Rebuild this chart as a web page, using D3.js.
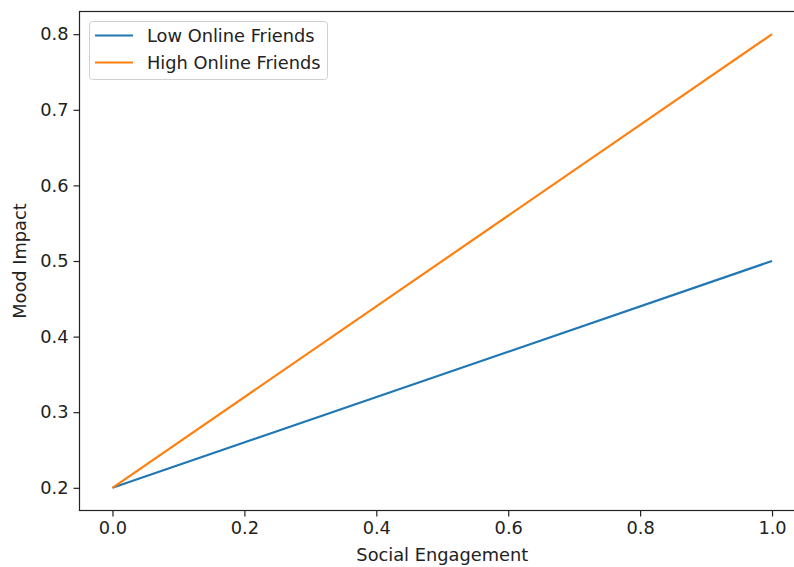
<!DOCTYPE html>
<html><head><meta charset="utf-8">
<script src="https://cdn.jsdelivr.net/npm/d3@7"></script>
<style>body{margin:0;background:#fff}svg{display:block}text{font-family:"DejaVu Sans",sans-serif;fill:#222}</style>
</head><body><svg id="c" width="794" height="567"></svg>
<script>
const engagement = [0, 1];
const lowFriends = [0.2, 0.5];
const highFriends = [0.2, 0.8];
const seriesNames = ["Low Online Friends", "High Online Friends"];
const xTicks = [0, 0.2, 0.4, 0.6, 0.8, 1.0];
const yTicks = [0.2, 0.3, 0.4, 0.5, 0.6, 0.7, 0.8];
const colors = ["#1f77b4", "#ff7f0e"];

const svg = d3.select("#c");
const L = 79.5, R = 805, T = 11.5, B = 510.5;
const x = d3.scaleLinear().domain([-0.05, 1.05]).range([L, R]);
const y = d3.scaleLinear().domain([0.2 - 0.03, 0.8 + 0.03]).range([B, T]);
const fs = 17.8;

const g = svg.append("g");
const xAxis = g.append("g").attr("transform", `translate(0,${B})`)
  .call(d3.axisBottom(x).tickValues(xTicks).tickFormat(d3.format(".1f")).tickSize(6).tickPadding(5).tickSizeOuter(0));
const yAxis = g.append("g").attr("transform", `translate(${L},0)`)
  .call(d3.axisLeft(y).tickValues(yTicks).tickFormat(d3.format(".1f")).tickSize(6).tickPadding(5).tickSizeOuter(0));
[xAxis, yAxis].forEach(a => {
  a.selectAll("text").style("font-size", fs + "px").style("font-family", "DejaVu Sans").attr("fill", "#222");
  a.selectAll("line").attr("stroke", "#222").attr("stroke-width", 1.2);
  a.select(".domain").remove();
});
// spines
g.append("rect").attr("x", L).attr("y", T).attr("width", R - L).attr("height", B - T)
  .attr("fill", "none").attr("stroke", "#222").attr("stroke-width", 1.2);

const line = d3.line().x(d => x(d[0])).y(d => y(d[1]));
[lowFriends, highFriends].forEach((s, i) => {
  g.append("path").datum(engagement.map((e, j) => [e, s[j]]))
    .attr("d", line).attr("fill", "none").attr("stroke", colors[i]).attr("stroke-width", 2.2);
});

// labels
svg.append("text").attr("x", (L + R) / 2 - 0).attr("y", 561).attr("text-anchor", "middle")
  .style("font-size", fs + "px").text("Social Engagement");
svg.append("text").attr("transform", `translate(26,${(T + B) / 2}) rotate(-90)`).attr("text-anchor", "middle")
  .style("font-size", fs + "px").text("Mood Impact");

// legend
const lg = svg.append("g");
lg.append("rect").attr("x", 89.5).attr("y", 21.5).attr("width", 238).attr("height", 58).attr("rx", 3)
  .attr("fill", "#fff").attr("fill-opacity", 0.8).attr("stroke", "#d0d0d0");
seriesNames.forEach((n, i) => {
  const yy = 35.5 + i * 27;
  lg.append("line").attr("x1", 95).attr("x2", 133).attr("y1", yy).attr("y2", yy)
    .attr("stroke", colors[i]).attr("stroke-width", 2.2);
  lg.append("text").attr("x", 147).attr("y", yy).attr("dy", "0.36em").style("font-size", fs + "px").text(n);
});
</script></body></html>
